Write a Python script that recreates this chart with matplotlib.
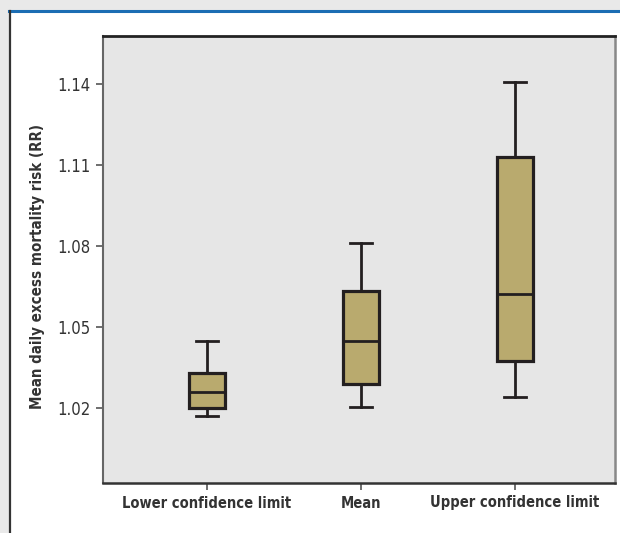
import matplotlib
matplotlib.use("Agg")
from matplotlib import pyplot as plt
from matplotlib.lines import Line2D
from matplotlib.patches import Rectangle

# box statistics
categories = ["Lower confidence limit", "Mean", "Upper confidence limit"]
whisker_low = [1.017, 1.0204, 1.0241]
q1 = [1.020, 1.0289, 1.0374]
medians = [1.0259, 1.0448, 1.0622]
q3 = [1.033, 1.0633, 1.113]
whisker_high = [1.0448, 1.0811, 1.1407]
yticks = [1.02, 1.05, 1.08, 1.11, 1.14]

plt.rcParams['font.family'] = ['DejaVu Sans']
plt.rcParams['font.stretch'] = 'condensed'

fig = plt.figure(figsize=(6.2, 5.33), dpi=100)
fig.patch.set_facecolor('#e9e9e9')
W, H = 620, 533

# white panel with blue top rule and dark left rule (behind the axes)
fig.add_artist(Rectangle((9 / W, 0), 1, 1 - 10 / H, transform=fig.transFigure,
                         facecolor='white', edgecolor='none', zorder=-2))
fig.add_artist(Line2D([9 / W, 1], [1 - 10.5 / H] * 2, transform=fig.transFigure,
                      color='#1c6db3', lw=2.2, zorder=-1))
fig.add_artist(Line2D([9.5 / W] * 2, [0, 1 - 11 / H], transform=fig.transFigure,
                      color='#333333', lw=1.6, zorder=-1))

ax = fig.add_axes([103 / W, 1 - 483 / H, (615 - 103) / W, (483 - 36) / H])
ax.set_facecolor('#e6e6e6')

stats = []
for i in range(len(categories)):
    stats.append(dict(whislo=whisker_low[i], q1=q1[i], med=medians[i],
                      q3=q3[i], whishi=whisker_high[i], fliers=[]))

edge = '#231f20'
ax.bxp(stats, positions=[1, 2, 3], widths=0.235, patch_artist=True,
       boxprops=dict(facecolor='#b9aa6e', edgecolor=edge, linewidth=2.3),
       medianprops=dict(color=edge, linewidth=2.0),
       whiskerprops=dict(color=edge, linewidth=2.0),
       capprops=dict(color=edge, linewidth=2.0),
       capwidths=0.14, showfliers=False)

ax.set_xlim(0.325, 3.649)
ax.set_ylim(0.9922, 1.1578)
ax.set_yticks(yticks)
ax.set_yticklabels(['%.2f' % v for v in yticks])
ax.set_xticks([1, 2, 3])
ax.set_xticklabels(categories, fontweight='bold')

ax.tick_params(axis='y', direction='out', length=5, width=1.2, color='#555555',
               labelsize=12, labelcolor='#333333', pad=4)
ax.tick_params(axis='x', direction='out', length=5, width=1.2, color='#555555',
               labelsize=10.5, labelcolor='#333333', pad=4)

ax.spines['top'].set_color('#222222')
ax.spines['top'].set_linewidth(2.0)
ax.spines['bottom'].set_color('#333333')
ax.spines['bottom'].set_linewidth(1.8)
ax.spines['left'].set_color('#666666')
ax.spines['left'].set_linewidth(1.5)
ax.spines['right'].set_color('#888888')
ax.spines['right'].set_linewidth(1.8)

ax.set_ylabel('Mean daily excess mortality risk (RR)', fontsize=10.8,
              fontweight='bold', color='#333333')
ax.yaxis.set_label_coords(-0.113, 0.485)

fig.savefig('out.png', dpi=100, facecolor=fig.get_facecolor())
